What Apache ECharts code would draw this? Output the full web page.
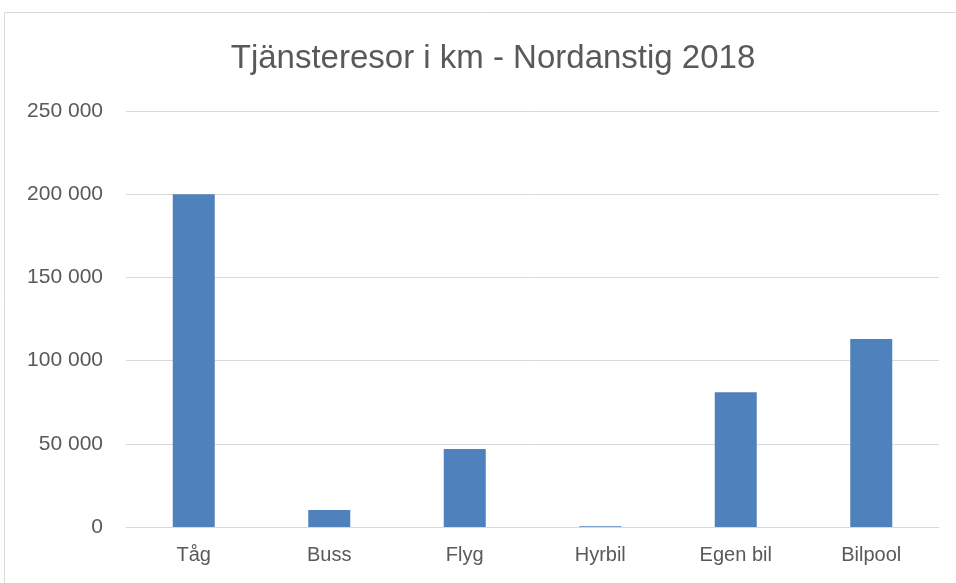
<!DOCTYPE html>
<html><head><meta charset="utf-8">
<script src="https://cdn.jsdelivr.net/npm/echarts@6/dist/echarts.min.js"></script>
<style>html,body{margin:0;padding:0;background:#fff}#c{width:956px;height:583px}</style>
</head><body><div id="c"></div>
<script>
const categories = ["Tåg", "Buss", "Flyg", "Hyrbil", "Egen bil", "Bilpool"];
const values = [200000, 10200, 46800, 400, 81000, 113000];
const yTicks = [0, 50000, 100000, 150000, 200000, 250000];
const titleText = "Tjänsteresor i km - Nordanstig 2018";

const fmt = v => String(v).replace(/\B(?=(\d{3})+(?!\d))/g, " ");
const chart = echarts.init(document.getElementById('c'), null, {renderer: 'canvas'});
chart.setOption({
  animation: false,
  backgroundColor: '#fff',
  graphic: [{type: 'rect', shape: {x: 4.5, y: 12.5, width: 1000, height: 1000}, style: {fill: 'none', stroke: '#D9D9D9', lineWidth: 1}}],
  title: {text: titleText, left: 488, top: 37, textAlign: 'center',
    textStyle: {fontFamily: 'Liberation Sans', fontSize: 33, fontWeight: 'normal', color: '#595959'}},
  grid: {left: 126, right: 17, top: 111, bottom: 56, containLabel: false},
  xAxis: {type: 'category', data: categories,
    axisLine: {lineStyle: {color: '#D9D9D9'}}, axisTick: {show: false},
    axisLabel: {color: '#595959', fontSize: 20, fontFamily: 'Liberation Sans', margin: 18}},
  yAxis: {type: 'value', min: yTicks[0], max: yTicks[yTicks.length-1], interval: 50000,
    axisLine: {show: false}, axisTick: {show: false},
    splitLine: {lineStyle: {color: '#D9D9D9'}},
    axisLabel: {color: '#595959', fontSize: 21, fontFamily: 'Liberation Sans', margin: 23, formatter: fmt}},
  series: [{type: 'bar', data: values, barWidth: '31%', itemStyle: {color: '#4F81BD'}}]
});
</script></body></html>
